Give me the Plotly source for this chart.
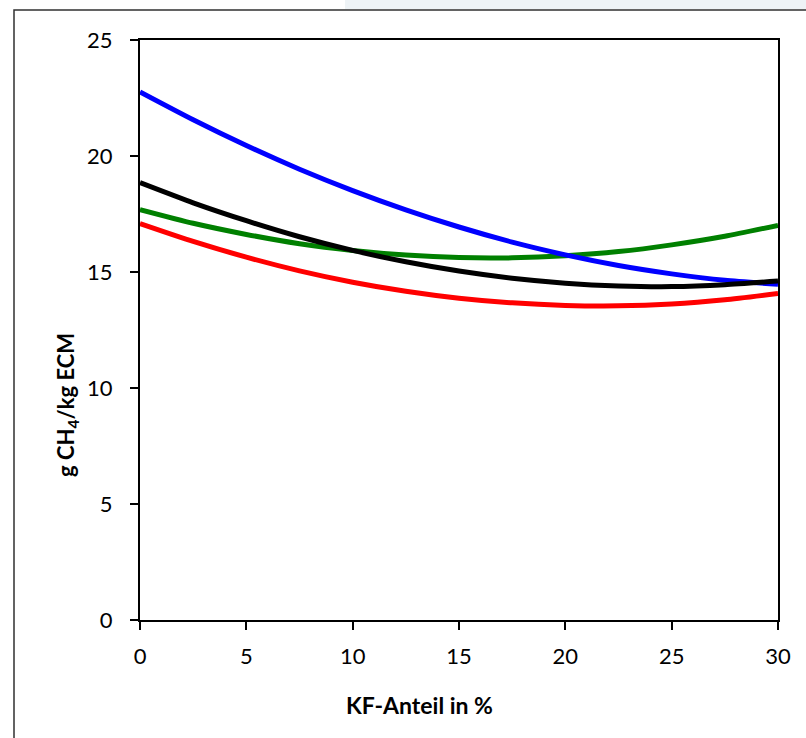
import plotly.graph_objects as go

# KF-Anteil in % (x positions where values were read)
kf_anteil = [0, 2.5, 5, 7.5, 10, 12.5, 15, 17.5, 20, 22.5, 25, 27.5, 30]

# g CH4 / kg ECM
blue_vals = [22.76, 21.56, 20.45, 19.43, 18.51, 17.68, 16.94, 16.29, 15.74, 15.28, 14.92, 14.64, 14.47]
black_vals = [18.85, 17.98, 17.21, 16.52, 15.93, 15.44, 15.04, 14.73, 14.52, 14.40, 14.37, 14.45, 14.61]
green_vals = [17.69, 17.10, 16.62, 16.22, 15.93, 15.73, 15.62, 15.61, 15.70, 15.88, 16.17, 16.54, 17.01]
red_vals = [17.09, 16.32, 15.64, 15.05, 14.56, 14.17, 13.87, 13.67, 13.56, 13.54, 13.62, 13.80, 14.07]

x_ticks = [0, 5, 10, 15, 20, 25, 30]
y_ticks = [0, 5, 10, 15, 20, 25]

series = [
    ("red", red_vals, "#FF0000"),
    ("green", green_vals, "#008000"),
    ("blue", blue_vals, "#0000FF"),
    ("black", black_vals, "#000000"),
]

fig = go.Figure()
for name, vals, col in series:
    fig.add_trace(go.Scatter(
        x=kf_anteil, y=vals, mode="lines", name=name,
        line=dict(color=col, width=5, shape="spline", smoothing=0.6),
        showlegend=False, hoverinfo="skip"))

W, H = 806, 738
L, R, T, B = 140, 28, 40, 118
pw, ph = W - L - R, H - T - B

def px(xp):
    return (xp - L) / pw

def py(yp):
    return (H - B - yp) / ph

FONT = "Lato, Carlito, Calibri, sans-serif"
tickfont = dict(family=FONT, size=22, color="#000000")

fig.update_layout(
    width=W, height=H,
    margin=dict(l=L, r=R, t=T, b=B, pad=0),
    paper_bgcolor="white", plot_bgcolor="white",
    xaxis=dict(range=[0, 30], tickvals=x_ticks, ticks="outside", ticklen=8,
               tickwidth=2, tickcolor="black", showline=True, linewidth=2,
               linecolor="black", mirror=True, showgrid=False, zeroline=False,
               tickfont=tickfont, ticklabelstandoff=8),
    yaxis=dict(range=[0, 25], tickvals=y_ticks, ticks="outside", ticklen=8,
               tickwidth=2, tickcolor="black", showline=True, linewidth=2,
               linecolor="black", mirror=True, showgrid=False, zeroline=False,
               tickfont=tickfont, ticklabelstandoff=13),
    shapes=[
        dict(type="rect", xref="paper", yref="paper", x0=px(345), x1=px(812),
             y0=py(9), y1=py(-2), fillcolor="#eef3f6", line=dict(width=0), layer="below"),
        dict(type="rect", xref="paper", yref="paper", x0=px(14), x1=px(815),
             y0=py(750), y1=py(10), fillcolor="rgba(0,0,0,0)",
             line=dict(color="#303030", width=1.5), layer="above"),
    ],
    annotations=[
        dict(text="<b>KF-Anteil in %</b>", xref="paper", yref="paper",
             x=px(419), y=py(705), showarrow=False, xanchor="center", yanchor="middle",
             font=dict(family=FONT, size=23, color="black")),
        dict(text="<b>g CH<sub>4</sub>/kg ECM</b>", xref="paper", yref="paper",
             x=px(67), y=py(405), showarrow=False, xanchor="center", yanchor="middle",
             textangle=-90,
             font=dict(family=FONT, size=22, color="black")),
    ],
)

fig.write_html("out.html", config={"displayModeBar": False},
               post_script="document.body.style.margin='0';")
